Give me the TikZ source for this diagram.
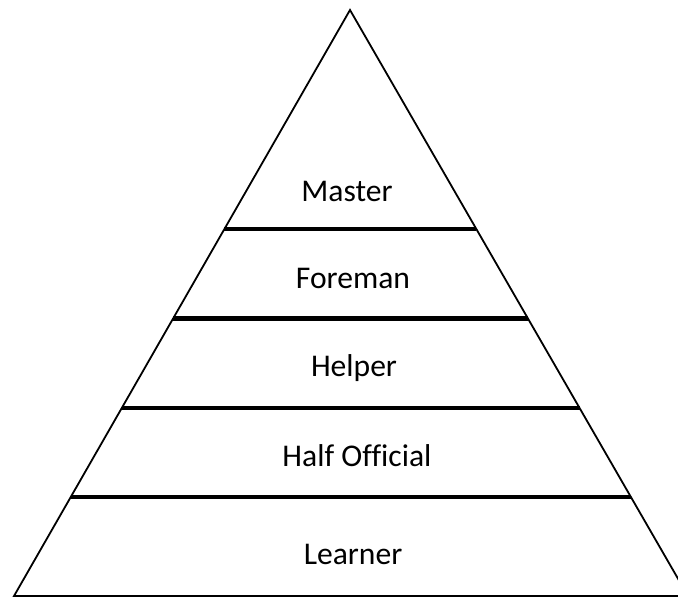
\documentclass[tikz,border=0pt]{standalone}
\usepackage{fontspec}
\setmainfont{Carlito}[Ligatures=NoCommon]
\usetikzlibrary{calc, positioning}

\begin{document}
\begin{tikzpicture}[
            x = 1pt,
            y = -1pt,
            line join = miter
        ]

        \tikzstyle{side}=[
            draw = black,
            line width = 1.8pt
        ]
        \tikzstyle{level}=[
            draw = black,
            line width = 4.6pt
        ]
        \tikzstyle{rank}=[
            anchor = base,
            inner sep = 0pt,
            font = \fontsize{31.6}{36}\selectfont
        ]

        \useasboundingbox (0,0) rectangle (678,597);
        \clip (0,0) rectangle (678,597);

        \coordinate (top) at (350,10);
        \coordinate (bl) at (14,596);
        \coordinate (br) at (688,596);

        \draw[side] (bl) -- (top) -- (br) -- cycle;

        % level bars
        \foreach \name/\t in {m/0.374, f/0.526, h/0.679, o/0.831} {
            \coordinate (\name l) at ($(top)!\t!(bl)$);
            \coordinate (\name r) at ($(top)!\t!(br)$);
            \draw[level] (\name l) -- (\name r);
        }

        \node[rank] (master) at (347,201) {Master};
        \node[rank] (foreman) at (353,288) {Foreman};
        \node[rank] (helper) at (354,376) {Helper};
        \node[rank] (half) at (357,466) {Half Official};
        \node[rank] (learner) at (353,564) {Learner};

    \end{tikzpicture}
\end{document}
